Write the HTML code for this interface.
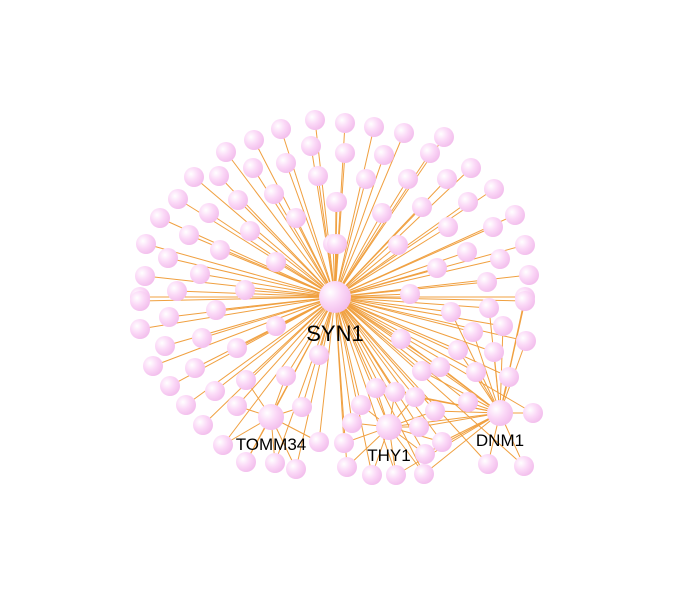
<!DOCTYPE html>
<html><head><meta charset="utf-8"><style>
html,body{margin:0;padding:0;background:#fff;width:692px;height:591px;overflow:hidden}
svg{display:block}
text{font-family:"Liberation Sans",sans-serif;fill:#000}
</style></head><body>
<svg id="net" width="692" height="591">
<defs>
<radialGradient id="g" cx="0.35" cy="0.35" r="0.7">
<stop offset="0" stop-color="#ffffff"/><stop offset="0.5" stop-color="#fbd9f7"/><stop offset="1" stop-color="#f2bdec"/>
</radialGradient>
</defs>
<g id="edges"></g><g id="nodes"></g><g id="labels"></g>
</svg>
<script>
const hubNames=["SYN1","TOMM34","THY1","DNM1"];
const hubX=[335,271,389,500];
const hubY=[297,417,427,413];
const hubReach=[0,60,65,125];
const nodeX=[315,281,254,226,311,253,286,318,194,219,178,238,274,160,209,296,336,146,189,250,220,333,168,276,145,200,177,245,140,
345,374,404,444,345,384,430,471,366,408,447,494,337,382,422,468,515,337,398,448,493,525,467,500,437,529,487,410,525,
140,216,169,276,140,202,165,237,319,153,195,286,246,170,215,302,237,186,203,223,319,246,275,296,
525,451,489,503,473,526,401,458,494,422,440,476,509,376,395,415,468,361,435,352,419,533,344,442,425,347,372,396,424,488,524];
const nodeY=[120,129,140,152,146,168,163,176,177,176,199,200,194,218,213,218,202,244,235,231,250,244,258,262,276,274,291,290,297,
123,127,133,137,153,155,153,168,179,179,179,189,202,213,207,202,215,244,245,227,227,245,252,259,268,275,282,294,297,
301,310,317,326,329,338,346,348,355,366,368,376,380,386,391,407,406,405,425,445,442,462,463,469,
301,312,308,326,332,341,339,350,352,371,367,372,377,388,392,397,402,405,411,423,427,413,443,442,454,467,475,475,474,464,466];
const NS="http://www.w3.org/2000/svg";
const eg=document.getElementById('edges'),ng=document.getElementById('nodes'),lg=document.getElementById('labels');
function line(x1,y1,x2,y2){const l=document.createElementNS(NS,'line');
l.setAttribute('x1',x1);l.setAttribute('y1',y1);l.setAttribute('x2',x2);l.setAttribute('y2',y2);
l.setAttribute('stroke','#f0a040');l.setAttribute('stroke-width','1');


eg.appendChild(l);}
function circ(x,y,r,name){const c=document.createElementNS(NS,'circle');
c.setAttribute('cx',x);c.setAttribute('cy',y);c.setAttribute('r',r);c.setAttribute('fill','url(#g)');


ng.appendChild(c);}
for(let i=0;i<nodeX.length;i++){
  line(hubX[0],hubY[0],nodeX[i],nodeY[i]);
  for(let h=1;h<hubX.length;h++){const d=Math.hypot(nodeX[i]-hubX[h],nodeY[i]-hubY[h]);
    if(d<hubReach[h]) line(hubX[h],hubY[h],nodeX[i],nodeY[i]);}
}
for(let h=1;h<hubX.length;h++) line(hubX[0],hubY[0],hubX[h],hubY[h]);
line(hubX[2],hubY[2],hubX[3],hubY[3]);
for(let i=0;i<nodeX.length;i++) circ(nodeX[i],nodeY[i],10,'gene-node');
const hubR=[16,13,13,13],labSize=[22,17,17,17],labDy=[44,33,34,33];
for(let h=0;h<hubX.length;h++){
  circ(hubX[h],hubY[h],hubR[h],'hub-node-'+hubNames[h].toLowerCase());
  const t=document.createElementNS(NS,'text');
  t.setAttribute('x',hubX[h]);t.setAttribute('y',hubY[h]+labDy[h]);
  t.setAttribute('text-anchor','middle');t.setAttribute('font-size',labSize[h]);
  t.textContent=hubNames[h];
  
  
  lg.appendChild(t);
}
</script>
</body></html>
